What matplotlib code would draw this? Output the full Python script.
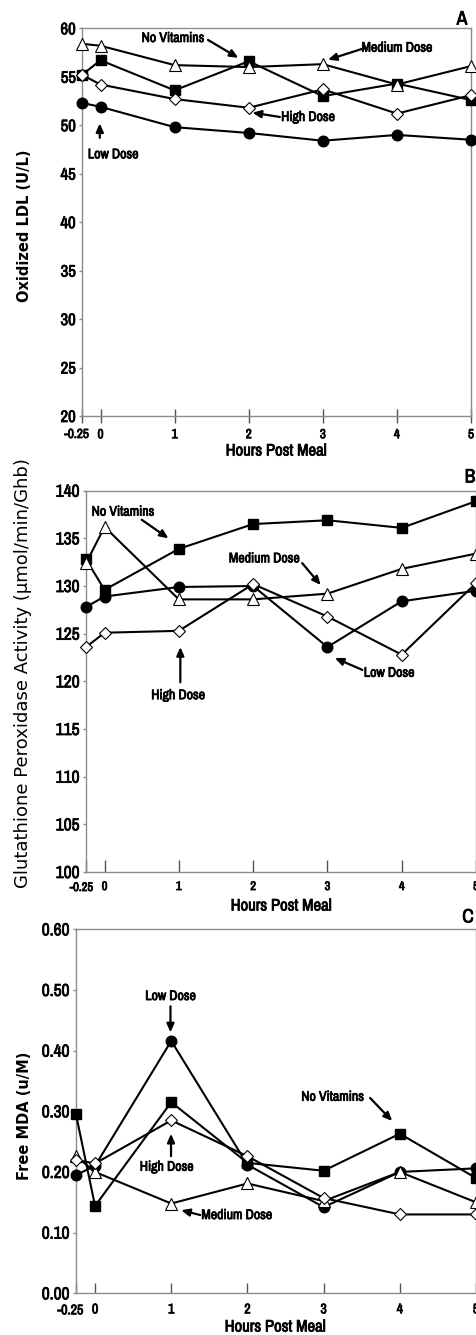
import matplotlib
matplotlib.use("Agg")
import matplotlib.pyplot as plt
import matplotlib.patheffects as pe
from matplotlib.ticker import FixedLocator, FormatStrFormatter

NARROW = ['Arial Narrow', 'Liberation Sans Narrow', 'Archivo Narrow', 'PT Sans Narrow',
          'Roboto Condensed', 'Liberation Sans', 'DejaVu Sans']
plt.rcParams['font.family'] = NARROW
BOLD = [pe.withStroke(linewidth=0.55, foreground='black')]

hours = [-0.25, 0, 1, 2, 3, 4, 5]
hour_labels = ['-0.25', '0', '1', '2', '3', '4', '5']

# Panel A: Oxidized LDL (U/L)
a_no_vit = [55.2, 56.7, 53.6, 56.6, 53.0, 54.3, 52.6]
a_low = [52.3, 51.9, 49.8, 49.2, 48.4, 49.0, 48.5]
a_med = [58.4, 58.2, 56.2, 56.0, 56.3, 54.2, 56.1]
a_high = [55.2, 54.2, 52.7, 51.8, 53.7, 51.2, 53.1]

# Panel B: Glutathione peroxidase activity
b_no_vit = [132.8, 129.6, 133.9, 136.5, 136.9, 136.1, 138.9]
b_low = [127.8, 128.9, 129.9, 130.0, 123.6, 128.4, 129.5]
b_med = [132.4, 136.2, 128.6, 128.6, 129.2, 131.8, 133.4]
b_high = [123.6, 125.1, 125.3, 130.2, 126.8, 122.8, 130.3]

# Panel C: Free MDA (u/M)
c_no_vit = [0.295, 0.144, 0.315, 0.215, 0.202, 0.263, 0.190]
c_low = [0.195, 0.210, 0.416, 0.212, 0.142, 0.200, 0.206]
c_med = [0.226, 0.200, 0.148, 0.181, 0.152, 0.200, 0.150]
c_high = [0.220, 0.214, 0.285, 0.226, 0.157, 0.130, 0.130]

W, H = 477, 1335
fig = plt.figure(figsize=(W / 100, H / 100), dpi=100)


def rect(l, r, t, b):
    return [l / W, 1 - b / H, (r - l) / W, (b - t) / H]


SPINE = '#8c8c8c'


def style_series(ax, nv, low, med, high, ms=7.2):
    kw = dict(color='black', lw=1.5, clip_on=False)
    ax.plot(hours, nv, marker='s', ms=ms, mfc='black', mec='black', zorder=3, **kw)
    ax.plot(hours, low, marker='o', ms=ms + 0.4, mfc='black', mec='black', zorder=4, **kw)
    ax.plot(hours, med, marker='^', ms=ms + 1.6, mfc='white', mec='black', mew=0.8, zorder=5, **kw)
    ax.plot(hours, high, marker='D', ms=ms - 0.6, mfc='white', mec='black', mew=0.8, zorder=6, **kw)


def style_axes(ax, ylim, yticks, yfmt, ytick_fs, xtick_fs, xdir, xlen, xpad, first_dy):
    ax.set_xlim(-0.25, 5)
    ax.set_ylim(*ylim)
    ax.xaxis.set_major_locator(FixedLocator(hours))
    ax.set_xticklabels([''] + hour_labels[1:], fontsize=xtick_fs)
    # the "-0.25" label sits a little left of the axis corner
    ax.annotate(hour_labels[0], xy=(hours[0], 0), xycoords=('data', 'axes fraction'),
                xytext=(7, first_dy), textcoords='offset pixels', ha='right', va='top',
                fontsize=xtick_fs, annotation_clip=False, path_effects=BOLD)
    ax.set_yticks(yticks)
    ax.yaxis.set_major_formatter(FormatStrFormatter(yfmt))
    for lab in ax.get_yticklabels():
        lab.set_fontsize(ytick_fs)
    for lab in ax.get_xticklabels() + ax.get_yticklabels():
        lab.set_path_effects(BOLD)
    for s in ax.spines.values():
        s.set_color(SPINE)
        s.set_linewidth(1.0)
    ax.tick_params(axis='x', direction=xdir, length=xlen, width=1.0, color='#555555', pad=xpad)
    ax.tick_params(axis='y', direction='out', length=2.5, width=1.0, color=SPINE, pad=2)


def arrow(ax, tail, head):
    ax.annotate('', xy=head, xytext=tail,
                arrowprops=dict(arrowstyle='-|>,head_length=0.5,head_width=0.22',
                                color='black', lw=1.6, shrinkA=0, shrinkB=0))


def label(ax, x, y, s, fs=10):
    ax.text(x, y, s, ha='center', va='center', fontsize=fs, path_effects=BOLD)


def ftext(x, y, s, fs):
    fig.text(x / W, 1 - y / H, s, fontsize=fs, ha='center', va='center', path_effects=BOLD)


# ---------------- Panel A ----------------
axA = fig.add_axes(rect(82, 471, 28.3, 416))
style_series(axA, a_no_vit, a_low, a_med, a_high)
style_axes(axA, (20, 60), range(20, 61, 5), '%d', 12, 9.5, 'inout', 10, 4.5, -13)
label(axA, 0.98, 59.0, 'No Vitamins')
arrow(axA, (1.45, 58.8), (1.86, 56.95))
label(axA, 4.0, 58.0, 'Medium Dose')
arrow(axA, (3.58, 58.0), (3.07, 56.75))
label(axA, 2.80, 50.85, 'High Dose')
arrow(axA, (2.42, 50.85), (2.05, 51.3))
label(axA, 0.17, 47.0, 'Low Dose')
arrow(axA, (-0.01, 48.7), (-0.01, 50.2))
ftext(462, 19, 'A', 14)
ftext(276, 451, 'Hours Post Meal', 12)
fig.text(24.5 / W, 1 - 226 / H, 'Oxidized LDL (U/L)', rotation=90, fontsize=10.5,
         fontweight='bold', family='DejaVu Sans', ha='center', va='center')

# ---------------- Panel B ----------------
axB = fig.add_axes(rect(86, 476, 490.7, 872))
style_series(axB, b_no_vit, b_low, b_med, b_high)
style_axes(axB, (100, 140), range(100, 141, 5), '%d', 12.5, 9, 'in', 9, 6.5, -10)
label(axB, 0.25, 137.8, 'No Vitamins')
arrow(axB, (0.50, 136.95), (0.86, 135.0))
label(axB, 2.15, 132.9, 'Medium Dose')
arrow(axB, (2.66, 132.4), (2.91, 130.1))
label(axB, 3.83, 120.9, 'Low Dose')
arrow(axB, (3.47, 121.2), (3.10, 122.45))
label(axB, 0.99, 118.55, 'High Dose')
arrow(axB, (1.02, 119.9), (1.02, 123.6))
ftext(470, 477, 'B', 14)
ftext(281, 906, 'Hours Post Meal', 12)
fig.text(23.5 / W, 1 - 673 / H, 'Glutathione Peroxidase Activity (\u03bcmol/min/Ghb)', rotation=90,
         fontsize=13, family='DejaVu Sans', ha='center', va='center')

# ---------------- Panel C ----------------
axC = fig.add_axes(rect(76, 476, 929.3, 1293.3))
style_series(axC, c_no_vit, c_low, c_med, c_high)
style_axes(axC, (0, 0.6), [0, 0.1, 0.2, 0.3, 0.4, 0.5, 0.6], '%.2f', 12.5, 10, 'in', 7, 6.5, -10)
label(axC, 0.99, 0.490, 'Low Dose')
arrow(axC, (0.99, 0.473), (0.99, 0.430))
label(axC, 3.12, 0.324, 'No Vitamins')
arrow(axC, (3.61, 0.322), (3.90, 0.284))
label(axC, 0.94, 0.2086, 'High Dose')
arrow(axC, (0.997, 0.226), (0.997, 0.263))
label(axC, 1.86, 0.129, 'Medium Dose')
arrow(axC, (1.38, 0.129), (1.13, 0.137))
ftext(468, 917, 'C', 14)
ftext(275, 1327, 'Hours Post Meal', 12)
fig.text(25 / W, 1 - 1116 / H, 'Free MDA (u/M)', rotation=90, fontsize=10.5,
         fontweight='bold', family='DejaVu Sans', ha='center', va='center')

fig.savefig('out.png', dpi=100)
